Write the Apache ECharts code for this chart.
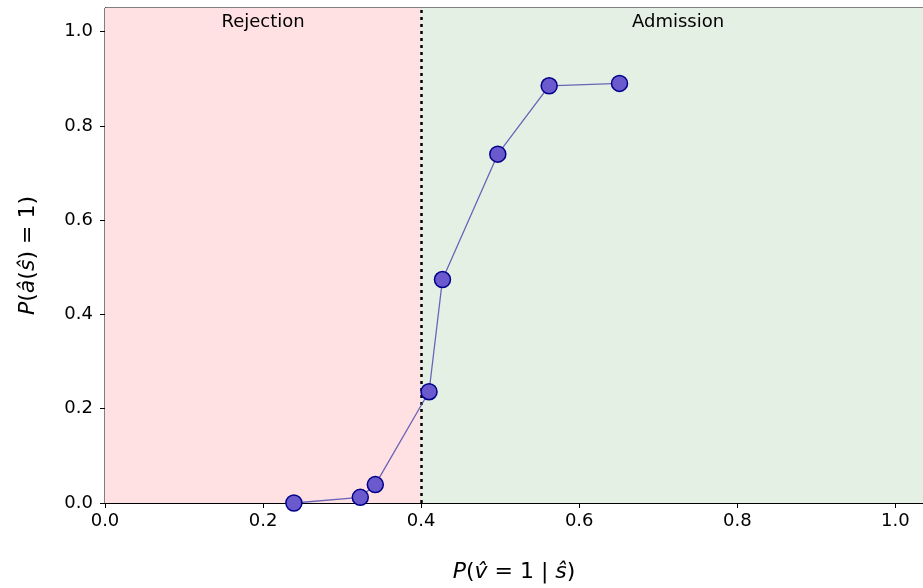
<!DOCTYPE html>
<html><head><meta charset="utf-8">
<script src="https://cdn.jsdelivr.net/npm/echarts@6/dist/echarts.min.js"></script>
<style>html,body{margin:0;padding:0;background:#fff}#c{width:923px;height:588px}</style>
</head><body><div id="c"></div>
<script>
const xValues = [0.239, 0.323, 0.342, 0.410, 0.427, 0.497, 0.562, 0.651];
const yValues = [0.000, 0.012, 0.039, 0.236, 0.474, 0.740, 0.885, 0.890];
const threshold = 0.4;
const regionLabels = ['Rejection', 'Admission'];
const xTicks = [0, 0.2, 0.4, 0.6, 0.8, 1.0];
const yTicks = [0, 0.2, 0.4, 0.6, 0.8, 1.0];
const xMax = 1.035, yMax = 1.05;

const chart = echarts.init(document.getElementById('c'), null, {renderer: 'canvas'});
const fmt = v => {
  const ok = xTicks.concat(yTicks).some(t => Math.abs(t - v) < 1e-6);
  return ok ? v.toFixed(1) : '';
};
const font = 'DejaVu Sans';
const rich = {i: {fontStyle: 'italic', fontSize: 22, fontFamily: font, color: '#000'}, n: {fontSize: 22, fontFamily: font, color: '#000'}};
chart.setOption({
  animation: false,
  grid: {left: 105, right: 0, top: 8, bottom: 85, show: true, borderColor: '#000', borderWidth: 1, backgroundColor: 'transparent'},
  xAxis: {
    type: 'value', min: 0, max: xMax, interval: 0.2,
    splitLine: {show: false},
    axisLine: {show: true, onZero: false, lineStyle: {color: '#000', width: 1}},
    axisTick: {show: true, length: 5, lineStyle: {color: '#000'}},
    axisLabel: {formatter: fmt, color: '#000', fontSize: 18, fontFamily: font, margin: 9, showMaxLabel: false},
    nameLocation: 'middle', nameGap: 58,
    name: '{i|P}{n|(}{i|v̂}{n| = 1 | }{i|ŝ}{n|)}',
    nameTextStyle: {rich}
  },
  yAxis: {
    type: 'value', min: 0, max: yMax, interval: 0.2,
    splitLine: {show: false},
    axisLine: {show: true, onZero: false, lineStyle: {color: '#000', width: 1}},
    axisTick: {show: true, length: 5, lineStyle: {color: '#000'}},
    axisLabel: {formatter: fmt, color: '#000', fontSize: 18, fontFamily: font, margin: 12, showMaxLabel: false},
    nameLocation: 'middle', nameGap: 66, nameRotate: 90,
    name: '{i|P}{n|(}{i|â}{n|(}{i|ŝ}{n|) = 1)}',
    nameTextStyle: {rich}
  },
  series: [{
    type: 'line',
    data: xValues.map((x, i) => [x, yValues[i]]),
    symbol: 'circle', symbolSize: 16,
    lineStyle: {color: 'rgba(80,76,175,0.85)', width: 1.3},
    itemStyle: {color: '#6a5acd', borderColor: '#00008b', borderWidth: 1.5},
    z: 5,
    markArea: {
      silent: true,
      data: [
        [{xAxis: 0, itemStyle: {color: '#ffe1e3'}, label: {show: true, formatter: regionLabels[0], position: 'insideTop', distance: 5, color: '#000', fontSize: 18, fontFamily: font}}, {xAxis: threshold}],
        [{xAxis: threshold, itemStyle: {color: '#e4f0e4'}, label: {show: true, formatter: regionLabels[1], position: 'insideTop', distance: 5, offset: [6, 0], color: '#000', fontSize: 18, fontFamily: font}}, {xAxis: xMax}]
      ]
    },
    markLine: {
      silent: true, symbol: 'none', label: {show: false},
      lineStyle: {color: '#000', type: [3, 4], width: 2.5},
      data: [{xAxis: threshold}]
    }
  }]
});
</script></body></html>
